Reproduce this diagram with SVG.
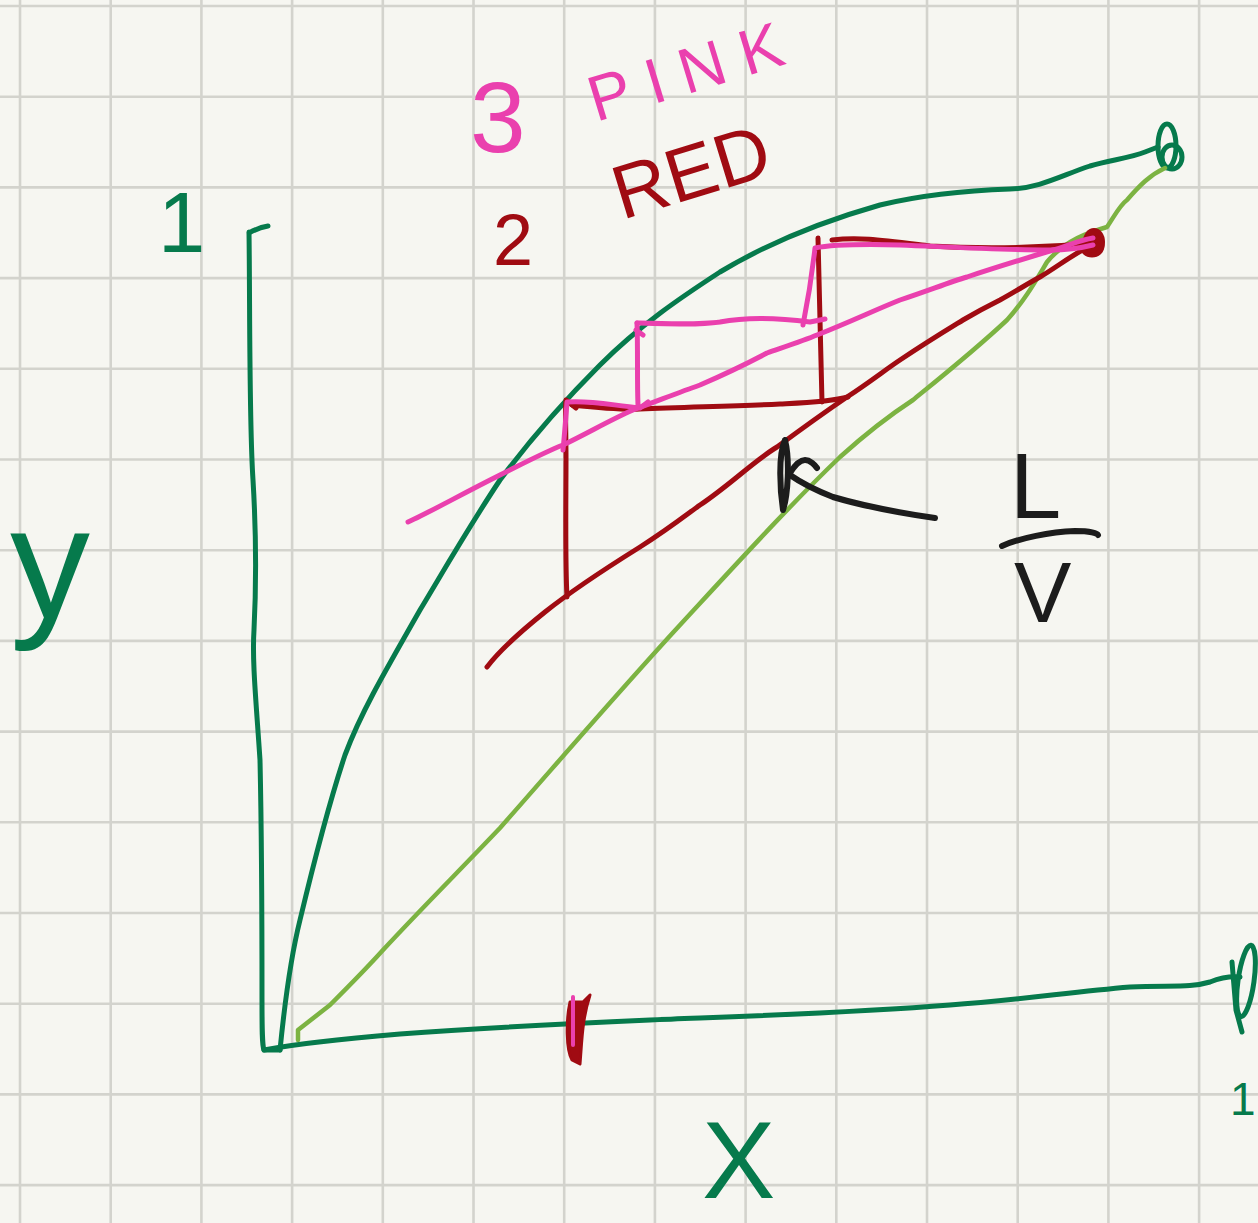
<svg xmlns="http://www.w3.org/2000/svg" width="1258" height="1223" viewBox="0 0 1258 1223">
<style>
.g{stroke:#d3d3cd;stroke-width:2.6;fill:none}
.s{fill:none;stroke-linecap:round;stroke-linejoin:round}
.dg{stroke:#067a4c;stroke-width:5}
.lg{stroke:#7cb342;stroke-width:4.5}
.rd{stroke:#a00b12;stroke-width:5}
.pk{stroke:#ea40ae;stroke-width:5}
.bk{stroke:#1c1c1c;stroke-width:6}
.t{font-family:"Liberation Sans",Arial,sans-serif}
</style>
<rect width="1258" height="1223" fill="#f6f6f1"/>
<g id="grid">
<path class="g" d="M20,0V1223M110.7,0V1223M201.4,0V1223M292.1,0V1223M382.8,0V1223M473.5,0V1223M564.2,0V1223M654.9,0V1223M745.6,0V1223M836.3,0V1223M927,0V1223M1017.7,0V1223M1108.4,0V1223M1199.1,0V1223"/>
<path class="g" d="M0,6H1258M0,96.7H1258M0,187.4H1258M0,278.1H1258M0,368.8H1258M0,459.5H1258M0,550.2H1258M0,640.9H1258M0,731.6H1258M0,822.3H1258M0,913H1258M0,1003.7H1258M0,1094.4H1258M0,1185.1H1258"/>
</g>
<g id="axes">
<path class="s dg" d="M268,226 C262,227 256,229 249,233 M249,232 C250,300 249,420 253,480 C256,530 257,570 254,630 C252,660 256,700 260,760 C262,850 262,950 262,1000 C262,1030 262,1045 264,1050 L280,1050"/>
<path class="s dg" d="M264,1050 C300,1043 340,1039 400,1034 C480,1028 560,1024 650,1020 C750,1016 850,1013 950,1005 C1020,1000 1070,992 1130,987 C1170,985 1190,988 1210,982 C1220,978 1228,976 1240,977"/>
<ellipse class="s dg" cx="1246" cy="981" rx="8" ry="36" transform="rotate(8 1246 981)"/>
<path class="s dg" d="M1232,962 L1236,1010 L1242,1032"/>
</g>
<g id="equilibrium-curve">
<path class="s dg" d="M280,1050 C284,1010 290,960 300,920 C312,870 330,800 345,755 C360,715 380,680 420,610 C450,560 470,525 500,480 C530,440 560,405 600,365 C640,325 680,298 720,272 C770,242 820,222 880,205 C930,193 980,190 1010,189 C1040,188 1060,176 1090,166 C1110,160 1130,158 1145,152 L1158,147"/>
<ellipse class="s dg" cx="1167" cy="146" rx="9" ry="22"/>
<ellipse class="s dg" cx="1172" cy="157" rx="10" ry="12"/>
</g>
<g id="diagonal">
<path class="s lg" d="M298,1040 L298,1030 L330,1005 C350,985 365,970 383,950 C420,910 460,870 500,828 C560,760 620,690 680,625 C740,560 790,505 840,457 C870,430 890,415 913,400 C940,378 975,350 1007,320 C1025,300 1035,282 1047,262 C1065,240 1090,232 1107,227 C1115,215 1120,205 1127,200 C1140,185 1150,175 1165,168"/>
</g>
<g id="red-lines">
<path class="s rd" d="M487,667 C500,650 520,632 545,612 C570,592 600,572 640,547 C670,528 690,512 700,505 C730,485 755,460 777,447 C800,430 825,412 847,397 C870,382 885,370 900,360 C930,340 950,328 963,320 C980,310 990,305 1000,300 C1015,292 1025,285 1040,277 C1060,265 1070,256 1095,243"/>
<path class="s rd" d="M567,597 C565,560 566,500 566,460 C566,430 565,410 566,400 L576,408"/>
<path class="s rd" d="M572,405 C600,408 620,410 640,409 C690,407 740,406 780,404 C800,403 830,402 848,397"/>
<path class="s rd" d="M822,402 C821,360 820,300 818,238"/>
<path class="s rd" d="M832,240 C860,237 880,240 930,246 C980,249 1030,249 1095,243"/>
<ellipse cx="1094" cy="242" rx="11" ry="14" fill="#a00b12"/>
<ellipse class="s rd" cx="1092" cy="246" rx="10" ry="9"/>
<path d="M570,1002 C566,1020 566,1050 572,1060 L580,1064 C582,1040 582,1020 590,995 L583,1002 Z" fill="#a00b12" stroke="#a00b12" stroke-width="3" stroke-linejoin="round"/>
<path class="s" d="M573,997 L573,1045" stroke="#ea40ae" stroke-width="4"/>
</g>
<g id="pink-lines">
<path class="s pk" d="M408,522 C430,512 460,495 500,475 C530,460 545,452 563,445 C590,432 610,420 633,410 C660,400 680,392 700,385 C730,372 750,362 767,353 C790,345 805,340 817,335 C850,322 875,310 900,300 C930,290 950,282 967,277 C1000,266 1030,257 1053,250 C1070,245 1080,240 1093,238"/>
<path class="s pk" d="M563,450 C565,430 566,415 567,402 C590,400 610,405 640,408 L648,402"/>
<path class="s pk" d="M638,405 C637,380 638,350 637,323 M636,330 L643,335"/>
<path class="s pk" d="M637,323 C670,324 700,325 720,322 C750,316 780,318 810,322 L825,319"/>
<path class="s pk" d="M803,325 C808,300 812,275 815,248 C830,245 860,244 900,245 C950,247 1000,250 1050,250 C1070,250 1085,247 1093,245"/>
</g>
<g id="pointer">
<path class="s bk" d="M935,518 C900,513 860,505 833,497 C815,490 800,482 790,475"/>
<path class="s bk" d="M785,440 C778,455 780,490 783,510 C788,495 790,460 785,440"/>
<path class="s bk" d="M790,473 C795,465 800,460 805,460 C810,460 815,465 817,468"/>
<path class="s bk" d="M1002,546 C1020,538 1050,532 1075,531 C1090,531 1097,533 1098,535"/>
</g>
<g id="labels" class="t">
<text x="470" y="152" font-size="100" fill="#ea40ae">3</text>
<text x="596" y="122" font-size="64" letter-spacing="17" fill="#ea40ae" transform="rotate(-17 596 122)">PINK</text>
<text x="493" y="265" font-size="72" fill="#a00b12">2</text>
<text x="622" y="220" font-size="76" fill="#a00b12" transform="rotate(-17 622 220)">RED</text>
<text x="10" y="618" font-size="160" fill="#067a4c">y</text>
<text x="702" y="1198" font-size="110" fill="#067a4c">X</text>
<text x="158" y="252" font-size="85" fill="#067a4c">1</text>
<text x="1230" y="1115" font-size="46" fill="#067a4c">1</text>
<text x="1010" y="518" font-size="92" fill="#1c1c1c">L</text>
<text x="1014" y="622" font-size="86" fill="#1c1c1c">V</text>
</g>
</svg>
